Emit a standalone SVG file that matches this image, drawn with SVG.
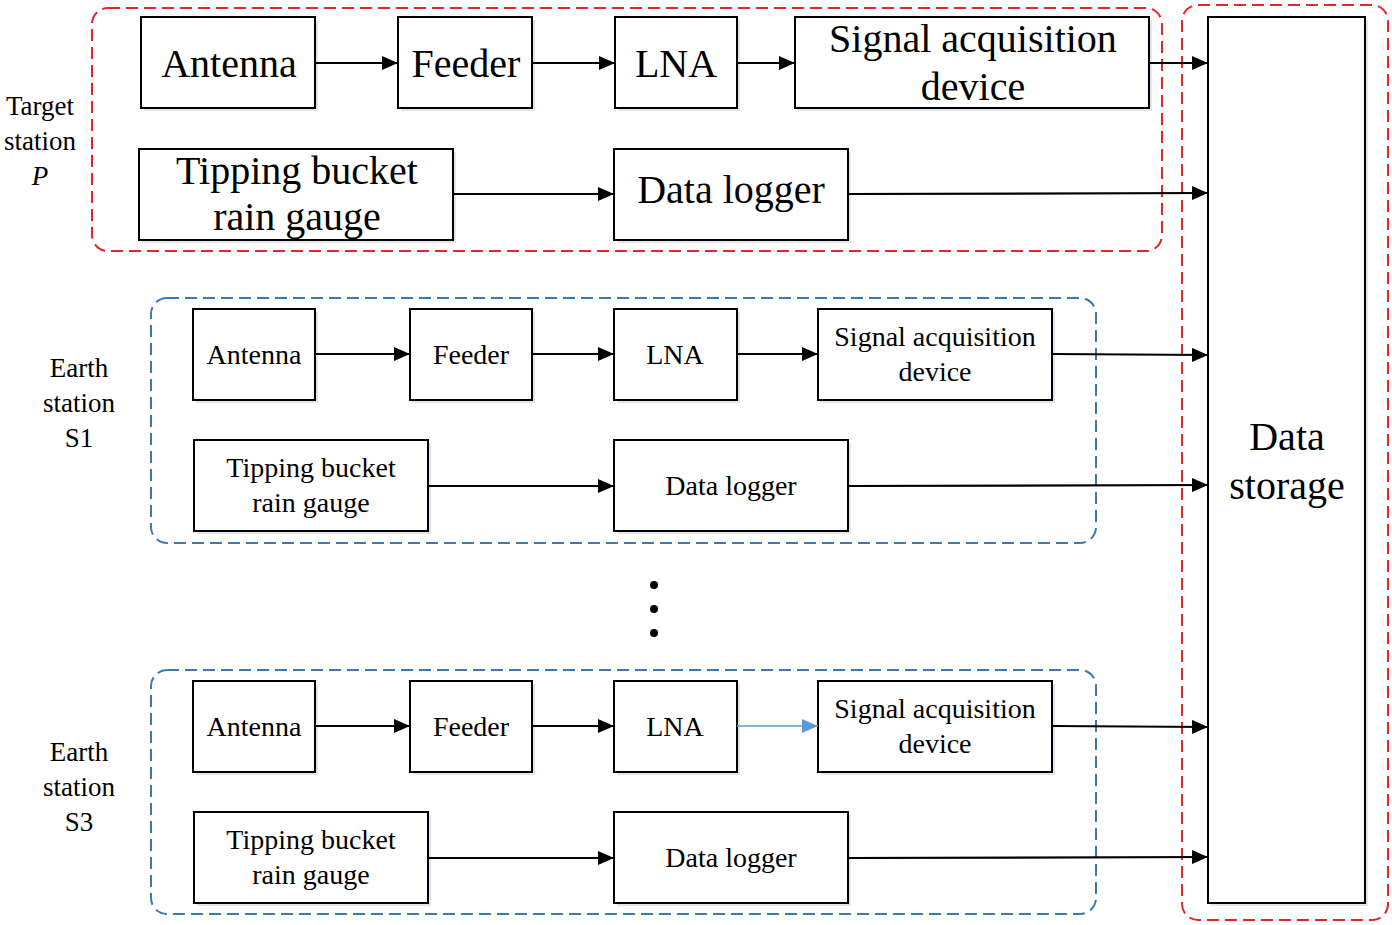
<svg xmlns="http://www.w3.org/2000/svg" width="1392" height="925" viewBox="0 0 1392 925">
<style>
.box{fill:#fff;stroke:#000;stroke-width:2}
.sh{fill:#dfe6ee}
.t{font-family:"Liberation Serif","Times New Roman",serif;fill:#000;text-anchor:middle}
.big{font-size:40px}
.mid{font-size:28px}
.lab{font-size:27px}
.red{fill:none;stroke:#e3262b;stroke-width:2;stroke-dasharray:12 6}
.blue{fill:none;stroke:#3e78b2;stroke-width:2;stroke-dasharray:12 6}
.c{stroke:#000;stroke-width:2.2;fill:none;marker-end:url(#ah)}
.cb{stroke:#5b9bd5;stroke-width:1.6;fill:none;marker-end:url(#ahb)}
</style>
<defs>
<marker id="ah" viewBox="0 0 16 14" refX="16" refY="7" markerWidth="16" markerHeight="14" markerUnits="userSpaceOnUse" orient="auto"><path d="M0,0 L16,7 L0,14 z" fill="#000"/></marker>
<marker id="ahb" viewBox="0 0 16 14" refX="16" refY="7" markerWidth="16" markerHeight="14" markerUnits="userSpaceOnUse" orient="auto"><path d="M0,0 L16,7 L0,14 z" fill="#5b9bd5"/></marker>
</defs>
<rect width="1392" height="925" fill="#fff"/>

<g id="boundaries">
<rect class="red" x="92" y="8" width="1070" height="243" rx="16"/>
<rect class="red" x="1182" y="5" width="206" height="915" rx="16"/>
<rect class="blue" x="151" y="298" width="945" height="245" rx="16"/>
<rect class="blue" x="151" y="670" width="945" height="244" rx="16"/>
</g>

<g id="labels">
<text class="t lab" x="40" y="115">Target</text>
<text class="t lab" x="40" y="150">station</text>
<text class="t lab" x="40" y="185" font-style="italic">P</text>
<text class="t lab" x="79" y="377">Earth</text>
<text class="t lab" x="79" y="412">station</text>
<text class="t lab" x="79" y="447">S1</text>
<text class="t lab" x="79" y="761">Earth</text>
<text class="t lab" x="79" y="796">station</text>
<text class="t lab" x="79" y="831">S3</text>
</g>

<g id="p-antenna"><rect class="sh" x="144" y="20" width="174" height="91"/><rect class="box" x="141" y="17" width="174" height="91"/><text class="t big" x="229" y="77">Antenna</text></g>
<g id="p-feeder"><rect class="sh" x="401" y="20" width="134" height="91"/><rect class="box" x="398" y="17" width="134" height="91"/><text class="t big" x="466" y="77">Feeder</text></g>
<g id="p-lna"><rect class="sh" x="618" y="20" width="122" height="91"/><rect class="box" x="615" y="17" width="122" height="91"/><text class="t big" x="676" y="77">LNA</text></g>
<g id="p-sad"><rect class="sh" x="798" y="20" width="354" height="91"/><rect class="box" x="795" y="17" width="354" height="91"/><text class="t big" x="973" y="52">Signal acquisition</text><text class="t big" x="973" y="100">device</text></g>
<g id="p-rain"><rect class="sh" x="142" y="152" width="314" height="91"/><rect class="box" x="139" y="149" width="314" height="91"/><text class="t big" x="297" y="184">Tipping bucket</text><text class="t big" x="297" y="230">rain gauge</text></g>
<g id="p-logger"><rect class="sh" x="617" y="152" width="234" height="91"/><rect class="box" x="614" y="149" width="234" height="91"/><text class="t big" x="731" y="203">Data logger</text></g>

<g id="s1-antenna"><rect class="sh" x="196" y="312" width="122" height="91"/><rect class="box" x="193" y="309" width="122" height="91"/><text class="t mid" x="254" y="364">Antenna</text></g>
<g id="s1-feeder"><rect class="sh" x="413" y="312" width="122" height="91"/><rect class="box" x="410" y="309" width="122" height="91"/><text class="t mid" x="471" y="364">Feeder</text></g>
<g id="s1-lna"><rect class="sh" x="617" y="312" width="123" height="91"/><rect class="box" x="614" y="309" width="123" height="91"/><text class="t mid" x="675" y="364">LNA</text></g>
<g id="s1-sad"><rect class="sh" x="821" y="312" width="234" height="91"/><rect class="box" x="818" y="309" width="234" height="91"/><text class="t mid" x="935" y="346">Signal acquisition</text><text class="t mid" x="935" y="381">device</text></g>
<g id="s1-rain"><rect class="sh" x="197" y="443" width="234" height="91"/><rect class="box" x="194" y="440" width="234" height="91"/><text class="t mid" x="311" y="477">Tipping bucket</text><text class="t mid" x="311" y="512">rain gauge</text></g>
<g id="s1-logger"><rect class="sh" x="617" y="443" width="234" height="91"/><rect class="box" x="614" y="440" width="234" height="91"/><text class="t mid" x="731" y="495">Data logger</text></g>

<g id="s3-antenna"><rect class="sh" x="196" y="684" width="122" height="91"/><rect class="box" x="193" y="681" width="122" height="91"/><text class="t mid" x="254" y="736">Antenna</text></g>
<g id="s3-feeder"><rect class="sh" x="413" y="684" width="122" height="91"/><rect class="box" x="410" y="681" width="122" height="91"/><text class="t mid" x="471" y="736">Feeder</text></g>
<g id="s3-lna"><rect class="sh" x="617" y="684" width="123" height="91"/><rect class="box" x="614" y="681" width="123" height="91"/><text class="t mid" x="675" y="736">LNA</text></g>
<g id="s3-sad"><rect class="sh" x="821" y="684" width="234" height="91"/><rect class="box" x="818" y="681" width="234" height="91"/><text class="t mid" x="935" y="718">Signal acquisition</text><text class="t mid" x="935" y="753">device</text></g>
<g id="s3-rain"><rect class="sh" x="197" y="815" width="234" height="91"/><rect class="box" x="194" y="812" width="234" height="91"/><text class="t mid" x="311" y="849">Tipping bucket</text><text class="t mid" x="311" y="884">rain gauge</text></g>
<g id="s3-logger"><rect class="sh" x="617" y="815" width="234" height="91"/><rect class="box" x="614" y="812" width="234" height="91"/><text class="t mid" x="731" y="867">Data logger</text></g>

<g id="storage"><rect class="sh" x="1211" y="20" width="157" height="886"/><rect class="box" x="1208" y="17" width="157" height="886"/><text class="t big" x="1287" y="450">Data</text><text class="t big" x="1287" y="499">storage</text></g>

<g id="dots" fill="#000"><circle cx="654" cy="585" r="4"/><circle cx="654" cy="609" r="4"/><circle cx="654" cy="633" r="4"/></g>

<g id="connectors">
<line class="c" x1="315" y1="63" x2="398" y2="63"/>
<line class="c" x1="532" y1="63" x2="615" y2="63"/>
<line class="c" x1="737" y1="63" x2="795" y2="63"/>
<line class="c" x1="1149" y1="63" x2="1208" y2="63"/>
<line class="c" x1="453" y1="194" x2="614" y2="194"/>
<line class="c" x1="848" y1="194" x2="1208" y2="193"/>
<line class="c" x1="315" y1="354" x2="410" y2="354"/>
<line class="c" x1="532" y1="354" x2="614" y2="354"/>
<line class="c" x1="737" y1="354" x2="818" y2="354"/>
<line class="c" x1="1052" y1="354" x2="1208" y2="355"/>
<line class="c" x1="428" y1="486" x2="614" y2="486"/>
<line class="c" x1="848" y1="486" x2="1208" y2="485"/>
<line class="c" x1="315" y1="726" x2="410" y2="726"/>
<line class="c" x1="532" y1="726" x2="614" y2="726"/>
<line class="cb" x1="737" y1="726" x2="818" y2="726"/>
<line class="c" x1="1052" y1="726" x2="1208" y2="727"/>
<line class="c" x1="428" y1="858" x2="614" y2="858"/>
<line class="c" x1="848" y1="858" x2="1208" y2="857"/>
</g>
</svg>
